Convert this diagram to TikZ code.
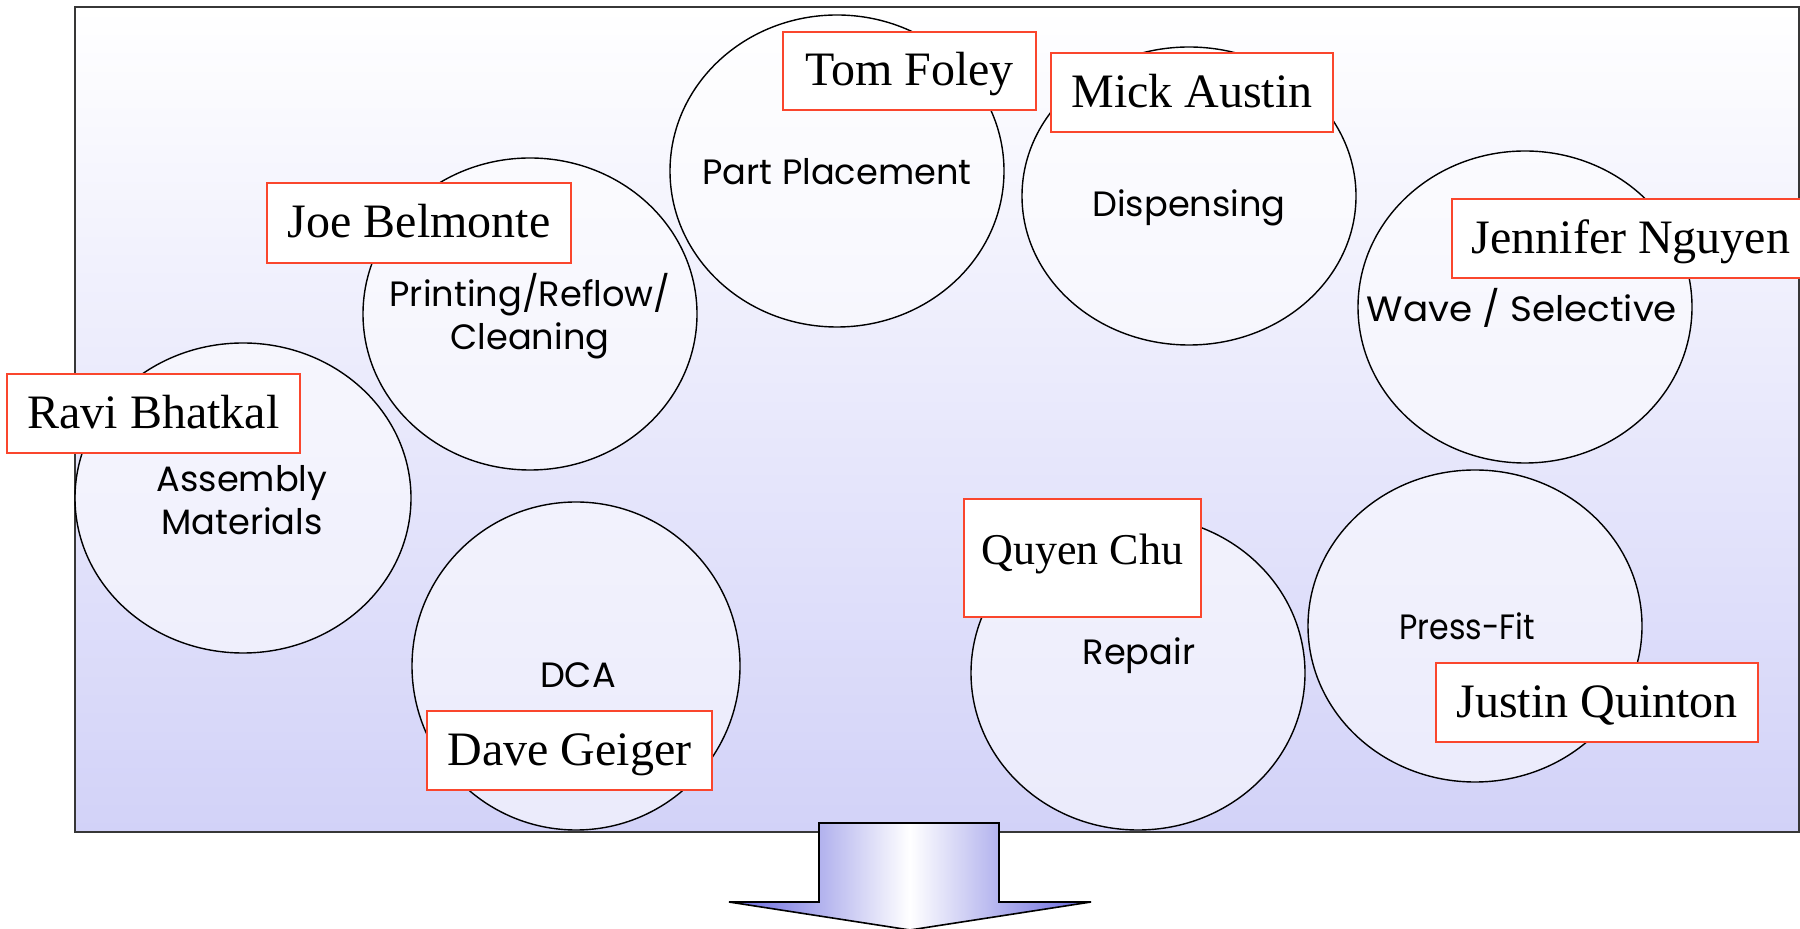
\documentclass[tikz,border=0pt]{standalone}
\usepackage{fontspec}
\setmainfont{Liberation Serif}
\newfontfamily\gothic{Poppins}
\usetikzlibrary{shapes.geometric}
\definecolor{bgbottom}{RGB}{210,210,248}
\definecolor{namered}{RGB}{250,70,45}
\definecolor{arrowblue}{RGB}{100,100,220}
\definecolor{framegray}{RGB}{55,55,55}
\begin{document}
\begin{tikzpicture}[x=0.5pt,y=-0.5pt,
  area/.style={ellipse, draw=black, line width=0.7pt, fill=white, fill opacity=0.55, inner sep=0pt},
  namebox/.style={draw=namered, line width=1pt, fill=white, inner sep=0pt,
    font=\fontsize{24}{28}\selectfont, text height=18pt, text depth=3pt},
  areatext/.style={font=\gothic\fontsize{17.6}{20}\selectfont, anchor=base, inner sep=0pt}
]
\useasboundingbox (0,0) rectangle (1800,929);
% panel
\path[draw=framegray, line width=0.8pt, top color=white, bottom color=bgbottom]
  (75,7) rectangle (1799,832);
% areas
\node[area, minimum width=168pt, minimum height=155pt] (asm) at (243,498) {};
\node[area, minimum width=167pt, minimum height=156pt] (print) at (530,314) {};
\node[area, minimum width=167pt, minimum height=156pt] (place) at (837,171) {};
\node[area, minimum width=167pt, minimum height=149pt] (disp) at (1189,196) {};
\node[area, minimum width=167pt, minimum height=156pt] (wave) at (1525,307) {};
\node[area, minimum width=164pt, minimum height=164pt] (dca) at (576,666) {};
\node[area, minimum width=167pt, minimum height=157pt] (repair) at (1138,673) {};
\node[area, minimum width=167pt, minimum height=156pt] (press) at (1475,626) {};
% area texts
\node[areatext] (tplace) at (837,185) {Part Placement};
\node[areatext] (tdisp) at (1189,217) {Dispensing};
\node[areatext] (tprint1) at (530,307) {Printing/Reflow/};
\node[areatext] (tprint2) at (530,350) {Cleaning};
\node[areatext] (twave) at (1522,322) {\scalebox{1.06}[1]{Wave / Selective}};
\node[areatext] (tasm1) at (242,492) {Assembly};
\node[areatext] (tasm2) at (242,535) {Materials};
\node[areatext] (tdca) at (578,688) {DCA};
\node[areatext] (trepair) at (1139,665) {Repair};
\node[areatext] (tpress) at (1467,640) {\scalebox{0.9}[1]{Press-Fit}};
% name boxes
\node[namebox, minimum width=126.5pt, minimum height=39pt] (tom) at (909.5,71) {Tom Foley};
\node[namebox, minimum width=141pt, minimum height=39.5pt] (mick) at (1192,92.5) {Mick Austin};
\node[namebox, minimum width=152pt, minimum height=40pt] (joe) at (419,223) {Joe Belmonte};
\node[namebox, minimum width=146.5pt, minimum height=39.5pt] (ravi) at (153.5,413.5) {Ravi Bhatkal};
\node[namebox, minimum width=179pt, minimum height=39.5pt] (jen) at (1631,238.5) {Jennifer Nguyen};
\node[namebox, minimum width=142.5pt, minimum height=39.5pt] (dave) at (569.5,750.5) {Dave Geiger};
\node[namebox, minimum width=118.5pt, minimum height=59pt, font=\fontsize{22}{26}\selectfont,
  text height=16pt, text depth=9pt] (quyen) at (1082.5,558) {Quyen Chu};
\node[namebox, minimum width=161pt, minimum height=39.5pt] (justin) at (1597,702.5) {Justin Quinton};
% down arrow
\path[draw=black, line width=0.8pt, left color=arrowblue, right color=arrowblue, middle color=white]
  (819,823) -- (999,823) -- (999,902) -- (1091,902) -- (910,930) -- (729,902) -- (819,902) -- cycle;
\end{tikzpicture}
\end{document}
